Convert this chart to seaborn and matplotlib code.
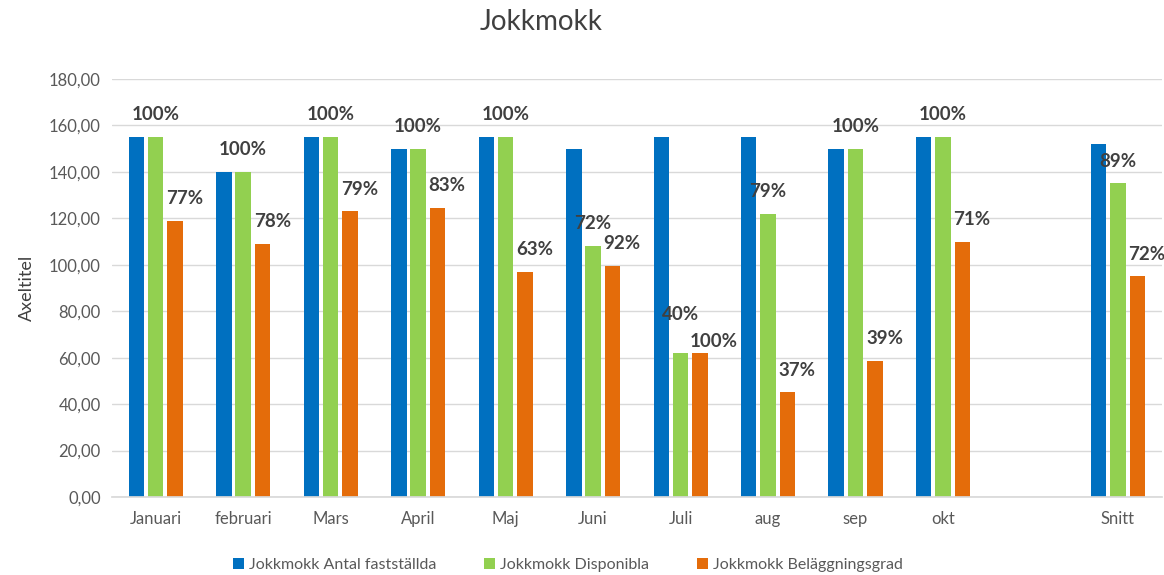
import matplotlib
matplotlib.use("Agg")
import matplotlib.pyplot as plt
import seaborn as sns
import pandas as pd
import numpy as np

categories = ["Januari", "februari", "Mars", "April", "Maj", "Juni", "Juli",
              "aug", "sep", "okt", " ", "Snitt"]
antal = [155, 140, 155, 150, 155, 150, 155, 155, 150, 155, None, 152]
disponibla = [155, 140, 155, 150, 155, 108, 62, 122, 150, 155, None, 135]
belaggning = [119, 109, 123, 124.5, 97, 99.5, 62, 45, 58.5, 110, None, 95]
disp_labels = ["100%", "100%", "100%", "100%", "100%", "72%", "40%", "79%",
               "100%", "100%", None, "89%"]
bel_labels = ["77%", "78%", "79%", "83%", "63%", "92%", "100%", "37%",
              "39%", "71%", None, "72%"]
series = ["Jokkmokk Antal fastställda", "Jokkmokk Disponibla",
          "Jokkmokk Beläggningsgrad"]
colors = ["#0070C0", "#92D050", "#E46C0A"]

rows = []
for s, vals in zip(series, [antal, disponibla, belaggning]):
    for c, v in zip(categories, vals):
        if v is not None:
            rows.append({"Månad": c, "Serie": s, "Värde": v})
df = pd.DataFrame(rows)

sns.set_theme(style="white")
plt.rcParams["font.family"] = ["Lato", "DejaVu Sans"]

fig = plt.figure(figsize=(11.64, 5.75), dpi=100)
ax = fig.add_axes([0.0962, 0.1357, 0.9018, 0.727])

sns.barplot(data=df, x="Månad", y="Värde", hue="Serie", order=categories,
            hue_order=series, palette=colors, width=0.662, gap=0.2,
            errorbar=None, ax=ax, saturation=1, edgecolor="none")

ax.set_ylim(0, 180)
ax.set_xlim(-0.5, len(categories) - 0.5)
ax.set_yticks(np.arange(0, 181, 20))
ax.set_yticklabels([f"{v:.2f}".replace(".", ",") for v in np.arange(0, 181, 20)])
ax.yaxis.grid(True, color="#d9d9d9", linewidth=1)
ax.set_axisbelow(True)
for sp in ["top", "right", "left"]:
    ax.spines[sp].set_visible(False)
ax.spines["bottom"].set_color("#d9d9d9")
ax.tick_params(axis="both", length=0, colors="#595959", labelsize=12)
ax.tick_params(axis="x", pad=10)
ax.tick_params(axis="y", pad=8)
ax.set_xlabel("")
ax.set_ylabel("Axeltitel", fontsize=13, color="#404040", labelpad=10)

# data labels
def bars_of(cont):
    ps = [p for p in cont.patches if not np.isnan(p.get_height())]
    return sorted(ps, key=lambda p: p.get_x())

green_bars = bars_of(ax.containers[1])
orange_bars = bars_of(ax.containers[2])
g_labs = [l for l in disp_labels if l is not None]
o_labs = [l for l in bel_labels if l is not None]
for gp, op, gl, ol in zip(green_bars, orange_bars, g_labs, o_labs):
    gh, oh = gp.get_height(), op.get_height()
    close = abs(gh - oh) < 8
    g_dy = 28 if close else 16
    o_dy = 8 if close else 16
    o_dx = 10 if close else 7
    ax.annotate(gl, (gp.get_x() + gp.get_width() / 2, gh),
                xytext=(0, g_dy), textcoords="offset points",
                ha="center", va="center", fontsize=13.5,
                fontweight="bold", color="#404040")
    ax.annotate(ol, (op.get_x() + op.get_width() / 2, oh),
                xytext=(o_dx, o_dy), textcoords="offset points",
                ha="center", va="center", fontsize=13.5,
                fontweight="bold", color="#404040")

fig.text(0.465, 0.962, "Jokkmokk", ha="center", va="center",
         fontsize=20, color="#404040")

sns.move_legend(ax, "center", bbox_to_anchor=(0.434, -0.163), ncol=3,
                frameon=False, title=None, fontsize=11.5, handlelength=0.7,
                handleheight=0.7, handletextpad=0.3, columnspacing=3.0)
for t in ax.get_legend().get_texts():
    t.set_color("#595959")

fig.savefig("out.png", dpi=100)
